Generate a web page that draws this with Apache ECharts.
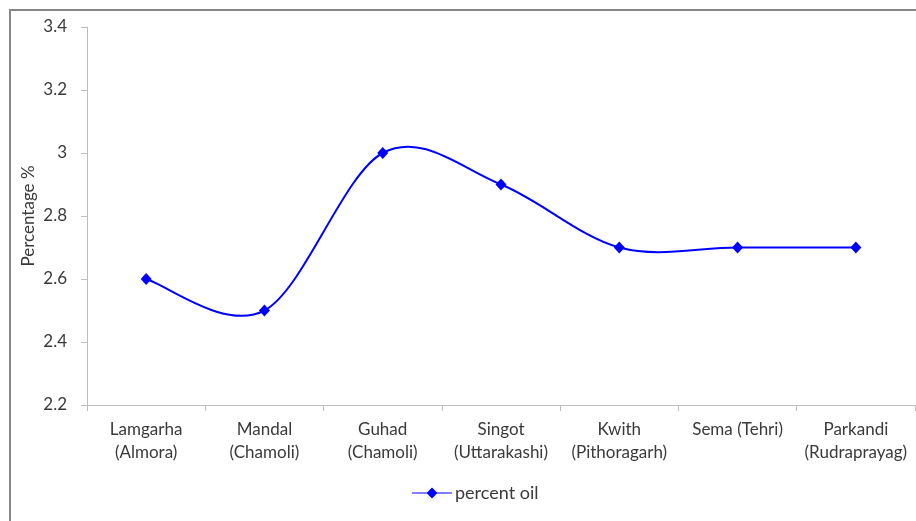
<!DOCTYPE html>
<html><head><meta charset="utf-8">
<script src="https://cdn.jsdelivr.net/npm/echarts@6/dist/echarts.min.js"></script>
<style>html,body{margin:0;padding:0;background:#fff}#c{width:916px;height:521px}</style>
</head><body><div id="c"></div>
<script>
const categories = ['Lamgarha\n(Almora)','Mandal\n(Chamoli)','Guhad\n(Chamoli)','Singot\n(Uttarakashi)','Kwith\n(Pithoragarh)','Sema (Tehri)','Parkandi\n(Rudraprayag)'];
const percentOil = [2.6, 2.5, 3.0, 2.9, 2.7, 2.7, 2.7];
const seriesName = 'percent oil';
const yAxisTitle = 'Percentage %';

const chart = echarts.init(document.getElementById('c'), null, {renderer:'canvas'});
const font = 'Lato, "Open Sans", sans-serif';
const txt = '#3a3a3a';
const blue = '#0000ff';

// Excel-style smoothed curve (Catmull-Rom Bezier) through data points mapped by the axes
function renderCurve(params, api){
  const pts = percentOil.map((v,i)=>api.coord([i, v]));
  const n = pts.length;
  let d = 'M' + pts[0][0] + ',' + pts[0][1];
  for(let i=0;i<n-1;i++){
    const p0 = pts[Math.max(i-1,0)], p1 = pts[i], p2 = pts[i+1], p3 = pts[Math.min(i+2,n-1)];
    const c1x = p1[0] + (p2[0]-p0[0])/6, c1y = p1[1] + (p2[1]-p0[1])/6;
    const c2x = p2[0] - (p3[0]-p1[0])/6, c2y = p2[1] - (p3[1]-p1[1])/6;
    d += 'C'+c1x+','+c1y+','+c2x+','+c2y+','+p2[0]+','+p2[1];
  }
  return {type:'path', shape:{pathData:d}, style:{fill:'none', stroke:blue, lineWidth:2}};
}

chart.setOption({
  animation:false,
  backgroundColor:'#fff',
  graphic:[{type:'rect',shape:{x:10,y:10,width:1000,height:1000},style:{fill:'none',stroke:'#868686',lineWidth:2},silent:true}],
  grid:{left:87,right:1,top:27,bottom:116},
  legend:{bottom:14,left:407,itemWidth:40,itemHeight:11,itemGap:6,
    data:[{name:seriesName,icon:'path://M0,5L40,5L40,6L0,6Z M20,0L25.5,5.5L20,11L14.5,5.5Z'}],
    textStyle:{fontFamily:font,fontSize:18,color:txt,padding:[0,0,0,-2]}},
  xAxis:{type:'category',data:categories,boundaryGap:true,
    axisLine:{lineStyle:{color:'#bdbdbd',width:1}},
    axisTick:{show:true,alignWithLabel:false,length:6,lineStyle:{color:'#bdbdbd'}},
    axisLabel:{interval:0,margin:13,fontFamily:font,fontSize:17,color:txt,lineHeight:23}},
  yAxis:{type:'value',min:2.2,max:3.4,interval:0.2,
    name:yAxisTitle,nameLocation:'middle',nameGap:50,nameRotate:90,nameMoveOverlap:false,
    nameTextStyle:{fontFamily:font,fontSize:17,color:txt},
    axisLine:{show:true,lineStyle:{color:'#bdbdbd'}},
    axisTick:{show:true,length:6,lineStyle:{color:'#bdbdbd'}},
    splitLine:{show:false},
    axisLabel:{margin:20,fontFamily:font,fontSize:17,color:txt,formatter:v=>String(+v.toFixed(1))}},
  series:[
    {name:seriesName,type:'custom',data:[[0, percentOil[0]]],renderItem:renderCurve,itemStyle:{color:blue},z:2,silent:true},
    {name:seriesName,type:'line',data:percentOil,
      symbol:'diamond',symbolSize:[11,12],
      lineStyle:{width:0,opacity:0},itemStyle:{color:blue},z:3}
  ]
});
</script></body></html>
